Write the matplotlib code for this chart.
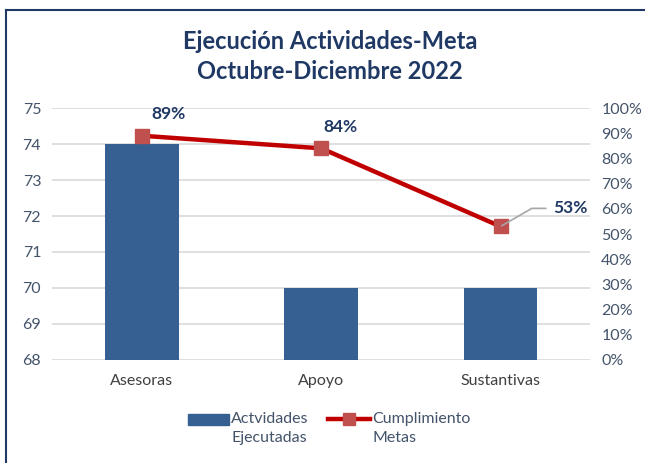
import matplotlib.pyplot as plt
from matplotlib.lines import Line2D
from matplotlib.transforms import Affine2D
from matplotlib.legend_handler import HandlerPatch, HandlerLine2D

categorias = ["Asesoras", "Apoyo", "Sustantivas"]
actividades = [74, 70, 70]
cumplimiento = [89, 84, 53]  # porcentaje
etiquetas = ["89%", "84%", "53%"]

azul_txt = "#44546a"
navy = "#1f3864"

plt.rcParams['font.family'] = ['Lato', 'DejaVu Sans']

fig = plt.figure(figsize=(6.45, 4.63), dpi=100)
ax = fig.add_axes([0.081, 0.2225, 0.834, 0.5442])
x = range(len(categorias))

ax.bar(x, actividades, width=0.41, color="#376092", zorder=2)
ax.set_ylim(68, 75)
ax.set_xlim(-0.5, 2.5)
ax.set_xticks(list(x))
ax.set_xticklabels(categorias)
ax.yaxis.grid(True, color="#d9d9d9", linewidth=1.2, zorder=0)
ax.set_axisbelow(True)
for s in ax.spines.values():
    s.set_visible(False)
ax.tick_params(length=0, labelsize=11.5, colors=azul_txt, pad=8)
ax.tick_params(axis='x', colors="#404040", pad=10)

ax2 = ax.twinx()
ax2.plot(x, cumplimiento, color="#c00000", linewidth=3.2, marker="s", markersize=10,
         markerfacecolor="#c0504d", markeredgecolor="#c0504d", zorder=3)
ax2.set_ylim(0, 100)
ax2.set_yticks(range(0, 101, 10))
ax2.set_yticklabels([f"{v}%" for v in range(0, 101, 10)])
for s in ax2.spines.values():
    s.set_visible(False)
ax2.tick_params(length=0, labelsize=11.5, colors=azul_txt, pad=8)

# etiquetas de datos
offsets = [(19, 16), (14, 15), (50, 13)]
for i, (val, lab) in enumerate(zip(cumplimiento, etiquetas)):
    if i == 2:
        ax2.annotate(lab, (i, val), xytext=offsets[i], textcoords="offset points",
                     ha="center", va="center", fontsize=12.5, fontweight="bold", color=navy,
                     arrowprops=dict(arrowstyle="-", color="#a6a6a6", lw=1.2,
                                     shrinkA=3, shrinkB=1,
                                     connectionstyle="angle,angleA=0,angleB=30,rad=0"))
    else:
        ax2.annotate(lab, (i, val), xytext=offsets[i], textcoords="offset points",
                     ha="center", va="center", fontsize=12.5, fontweight="bold", color=navy)

fig.text(0.512, 0.91, "Ejecución Actividades-Meta", ha="center", va="center",
         fontsize=17, fontweight="bold", color=navy)
fig.text(0.512, 0.845, "Octubre-Diciembre 2022", ha="center", va="center",
         fontsize=17, fontweight="bold", color=navy)

# borde
fig.add_artist(Line2D([0.0093, 0.0093], [0, 0.979], color=navy, lw=1.5))
fig.add_artist(Line2D([0.0093, 1], [0.979, 0.979], color=navy, lw=1.5))


# los simbolos de la leyenda van a la altura de la primera linea
class PatchArriba(HandlerPatch):
    def create_artists(self, legend, orig_handle, xdescent, ydescent, width, height, fontsize, trans):
        return super().create_artists(legend, orig_handle, xdescent, ydescent, width, height,
                                      fontsize, Affine2D().translate(0, 6.5) + trans)


class LineaArriba(HandlerLine2D):
    def create_artists(self, legend, orig_handle, xdescent, ydescent, width, height, fontsize, trans):
        return super().create_artists(legend, orig_handle, xdescent, ydescent, width, height,
                                      fontsize, Affine2D().translate(0, 6.5) + trans)


h1 = plt.Rectangle((0, 0), 1, 1, color="#376092")
h2 = Line2D([], [], color="#c00000", linewidth=3.2, marker="s", markersize=8,
            markerfacecolor="#c0504d", markeredgecolor="#c0504d")
leg = fig.legend([h1, h2], ["Actvidades\nEjecutadas", "Cumplimiento\nMetas"], loc="center",
                 bbox_to_anchor=(0.51, 0.075), ncol=2, frameon=False, fontsize=11.5,
                 labelcolor=azul_txt, handlelength=2.6, handletextpad=0.15, columnspacing=1.2,
                 handler_map={plt.Rectangle: PatchArriba(), Line2D: LineaArriba()})
for t in leg.get_texts():
    t.set_linespacing(1.45)

fig.savefig("out.png", dpi=100)
